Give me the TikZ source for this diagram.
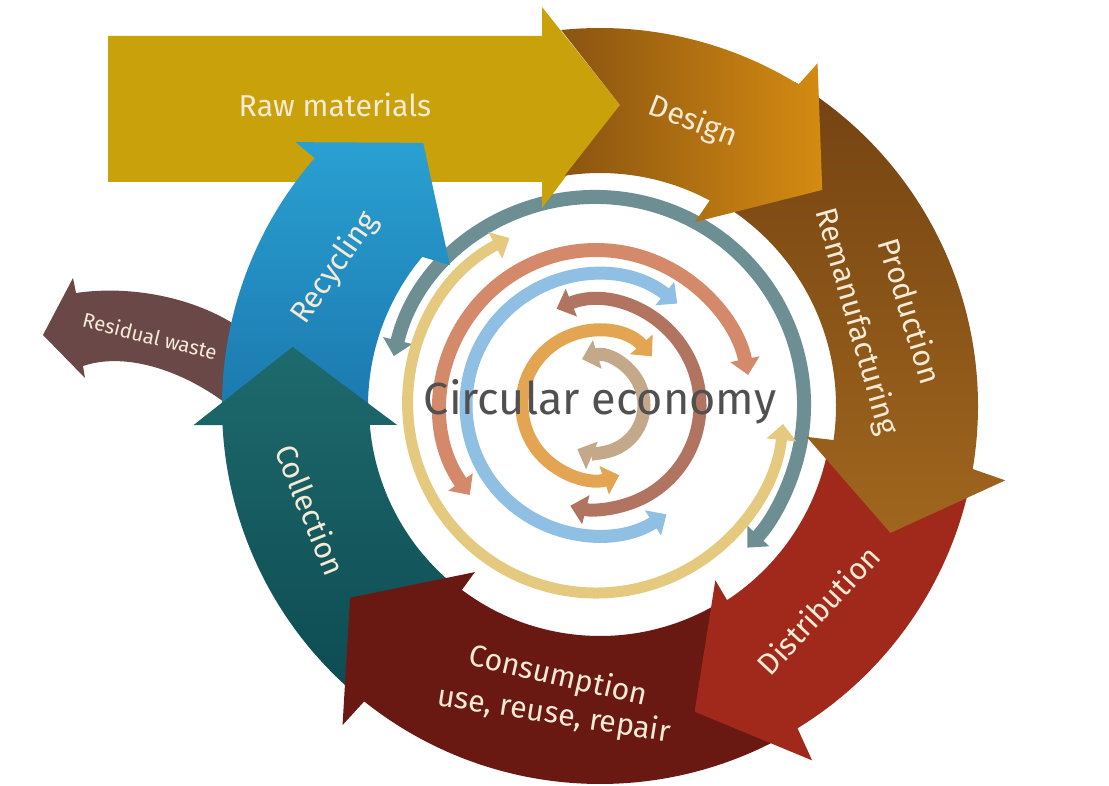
\documentclass[tikz,border=0pt]{standalone}
\usepackage{fontspec}
\setmainfont{Fira Sans}
\usetikzlibrary{arrows.meta}

\definecolor{rawgold}{HTML}{C9A20B}
\definecolor{desleft}{HTML}{8A5411}
\definecolor{desright}{HTML}{D58B12}
\definecolor{prodtop}{HTML}{744312}
\definecolor{prodbot}{HTML}{A0661E}
\definecolor{distri}{HTML}{A1291C}
\definecolor{consum}{HTML}{6A1812}
\definecolor{coltop}{HTML}{1E6A6C}
\definecolor{colbot}{HTML}{0D4B53}
\definecolor{recytop}{HTML}{2AA0D2}
\definecolor{recybot}{HTML}{1B78AE}
\definecolor{residual}{HTML}{6B4848}
\definecolor{labeltext}{HTML}{F4EAD5}
\definecolor{grayring}{HTML}{6D8E93}
\definecolor{yellowring}{HTML}{E5C97E}
\definecolor{salmonring}{HTML}{D4896B}
\definecolor{bluering}{HTML}{8FBFE3}
\definecolor{mauvering}{HTML}{B07461}
\definecolor{orangering}{HTML}{E3A552}
\definecolor{tanring}{HTML}{C4A88A}
\definecolor{centretext}{HTML}{505050}

\tikzset{
  lbl/.style={text=labeltext, font=\fontsize{8.6}{10}\selectfont, inner sep=0pt},
  ringarrow/.style={line width=#1, {Triangle[length=1.6mm,width=2.9mm]}-{Triangle[length=1.6mm,width=2.9mm]}},
}

\begin{document}
\begin{tikzpicture}
    \useasboundingbox (0,0) rectangle (11.09,7.85);
    \fill[white] (0,0) rectangle (11.09,7.85);
    \coordinate (rawtip) at (6.20,6.80);

    % inner arrows
    \begin{scope}[shift={(5.96,3.80)}]
        \draw[ringarrow=1.4mm, grayring] (166.4:2.08) arc[start angle=166.4, end angle=-43.3, radius=2.08];
        \draw[ringarrow=1.1mm, yellowring] (117.4:1.88) arc[start angle=117.4, end angle=354.2, radius=1.88];
        \draw[ringarrow=1.4mm, salmonring] (215.5:1.55) arc[start angle=215.5, end angle=11.2, radius=1.55];
        \draw[ringarrow=1.3mm, bluering] (51.3:1.30) arc[start angle=51.3, end angle=302.8, radius=1.30];
        \draw[ringarrow=1.3mm, mauvering] (112.3:1.04) arc[start angle=112.3, end angle=-104.3, radius=1.04];
        \draw[ringarrow=1.3mm, orangering] (41:0.74) arc[start angle=41, end angle=288.4, radius=0.74];
        \draw[ringarrow=1.3mm, tanring] (107:0.48) arc[start angle=107, end angle=-113, radius=0.48];
    \end{scope}

    % raw materials and residual waste
    \fill[rawgold] (1.08,7.49) -- (5.42,7.49) -- (5.42,7.78) -- (rawtip) -- (5.42,5.77) -- (5.42,6.03) -- (1.08,6.03) -- cycle;
    \fill[residual] (2.40,4.57) .. controls (1.95,4.88) and (1.30,5.00) .. (0.76,4.92) -- (0.73,5.07) -- (0.43,4.50)
        -- (0.85,4.07) -- (0.83,4.19) .. controls (1.30,4.35) and (1.95,4.10) .. (2.40,3.70) -- cycle;

    % outer ring
    \begin{scope}[shift={(6.00,3.79)}]
        \shade[top color=recytop, bottom color=recybot] (181.5:3.78) arc[start angle=181.5, end angle=139, radius=3.78]
            -- (139.1:4.03) -- (123.9:3.17) -- (136.8:2.06) -- (140:2.32) arc[start angle=140, end angle=181.5, radius=2.32] -- cycle;
        \shade[top color=coltop, bottom color=colbot] (229.5:3.78) arc[start angle=229.5, end angle=182.9, radius=3.78]
            -- (182.7:4.07) -- (169.1:3.13) -- (185.3:2.04) -- (184.7:2.31) arc[start angle=184.7, end angle=229.5, radius=2.31] -- cycle;
        \fill[consum] (300:3.78) arc[start angle=300, end angle=231.4, radius=3.78]
            -- (231.1:4.10) -- (217.5:3.15) -- (233:2.08) -- (233.1:2.30) arc[start angle=233.1, end angle=300, radius=2.30] -- cycle;
        \fill[distri] (348:3.78) arc[start angle=348, end angle=301.5, radius=3.78]
            -- (300.9:4.13) -- (287.2:3.20) -- (303.5:2.09) -- (303.2:2.32) arc[start angle=303.2, end angle=348, radius=2.32] -- cycle;
        \shade[top color=prodtop, bottom color=prodbot] (59:3.78) arc[start angle=59, end angle=-9.6, radius=3.78]
            -- (-10.4:4.12) -- (-23.6:3.17) -- (-8.5:2.09) -- (-8.3:2.36) arc[start angle=-8.3, end angle=59, radius=2.36] -- cycle;
        \shade[left color=desleft, right color=desright] (95.9:3.78) arc[start angle=95.9, end angle=58.3, radius=3.78]
            -- (57.6:4.06) -- (44.2:3.10) -- (62.7:2.07) -- (61.9:2.33) arc[start angle=61.9, end angle=98.7, radius=2.33]
            -- (rawtip) -- cycle;
    \end{scope}

    % labels
    \node[lbl] (raw) at (3.35,6.80) {Raw materials};
    \node[lbl, rotate=-21] (design) at (6.93,6.63) {Design};
    \node[lbl, rotate=-73] (production) at (9.11,4.74) {Production};
    \node[lbl, rotate=-74] (remanufacturing) at (8.56,4.63) {Remanufacturing};
    \node[lbl, rotate=47] (distribution) at (8.18,1.75) {Distribution};
    \node[lbl, rotate=-13] (consumption) at (5.58,1.08) {Consumption};
    \node[lbl, rotate=-9] (reuse) at (5.54,0.70) {use, reuse, repair};
    \node[lbl, rotate=-68] (collection) at (3.11,2.75) {Collection};
    \node[lbl, rotate=55] (recycling) at (3.35,5.17) {Recycling};
    \node[lbl, font=\fontsize{5.8}{7}\selectfont, rotate=-14] (waste) at (1.50,4.49) {Residual waste};
    \node[text=centretext, font=\fontsize{12.8}{15}\selectfont, inner sep=0pt] (circular) at (6.00,3.83) {Circular economy};
\end{tikzpicture}
\end{document}
